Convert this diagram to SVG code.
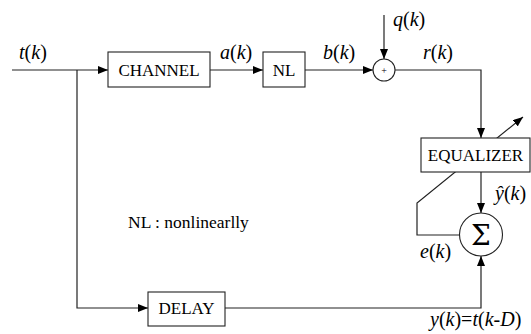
<svg xmlns="http://www.w3.org/2000/svg" width="531" height="334" viewBox="0 0 531 334">
<style>
.box{fill:#fff;stroke:#222;stroke-width:1.1}
.ln{fill:none;stroke:#222;stroke-width:1.2}
.lbl{font-family:"Liberation Serif",serif;font-size:17px;fill:#000;text-anchor:middle}
.m{font-family:"Liberation Serif",serif;font-size:20px;fill:#000}
.i{font-style:italic}
</style>
<defs>
<marker id="ah" viewBox="0 0 10 8" refX="10" refY="4" markerWidth="10" markerHeight="8" markerUnits="userSpaceOnUse" orient="auto">
<path d="M0,0 L10,4 L0,8 Z" fill="#000"/>
</marker>
</defs>
<g id="connectors">
<path class="ln" d="M12,70 H108" marker-end="url(#ah)"/>
<path class="ln" d="M77,70 V308 H148" marker-end="url(#ah)"/>
<path class="ln" d="M210,70 H263" marker-end="url(#ah)"/>
<path class="ln" d="M305,70 H373" marker-end="url(#ah)"/>
<path class="ln" d="M384,15 V59" marker-end="url(#ah)"/>
<path class="ln" d="M395,70 H481 V138" marker-end="url(#ah)"/>
<path class="ln" d="M481,172 V213" marker-end="url(#ah)"/>
<path class="ln" d="M225,308 H481 V256" marker-end="url(#ah)"/>
<path class="ln" d="M459,235 H417 V203 L523,117" marker-end="url(#ah)"/>
</g>
<g id="channel"><rect class="box" x="108" y="52" width="102" height="35"/><text class="lbl" x="159" y="76">CHANNEL</text></g>
<g id="nl"><rect class="box" x="263" y="52" width="42" height="35"/><text class="lbl" x="284" y="76">NL</text></g>
<g id="adder"><circle class="box" cx="384" cy="70" r="11"/><text x="384" y="74" font-family="Liberation Serif,serif" font-size="10" text-anchor="middle">+</text></g>
<g id="equalizer"><rect class="box" x="421" y="138" width="109" height="34"/><text class="lbl" x="475.5" y="161">EQUALIZER</text></g>
<g id="sum"><circle class="box" cx="481" cy="234.5" r="21.5"/><text x="481" y="245" font-family="DejaVu Serif,serif" font-size="28" text-anchor="middle">Σ</text></g>
<g id="delay"><rect class="box" x="148" y="292" width="77" height="34"/><text class="lbl" x="186.5" y="314">DELAY</text></g>
<g id="labels">
<text class="m" x="19" y="59"><tspan class="i">t</tspan>(<tspan class="i">k</tspan>)</text>
<text class="m" x="220" y="59"><tspan class="i">a</tspan>(<tspan class="i">k</tspan>)</text>
<text class="m" x="323" y="59"><tspan class="i">b</tspan>(<tspan class="i">k</tspan>)</text>
<text class="m" x="423" y="59"><tspan class="i">r</tspan>(<tspan class="i">k</tspan>)</text>
<text class="m" x="393" y="26"><tspan class="i">q</tspan>(<tspan class="i">k</tspan>)</text>
<text class="m" x="495" y="200"><tspan class="i">ŷ</tspan>(<tspan class="i">k</tspan>)</text>
<text class="m" x="420" y="258"><tspan class="i">e</tspan>(<tspan class="i">k</tspan>)</text>
<text class="m" x="430" y="326"><tspan class="i">y</tspan>(<tspan class="i">k</tspan>)=<tspan class="i">t</tspan>(<tspan class="i">k</tspan>-<tspan class="i">D</tspan>)</text>
<text font-family="Liberation Serif,serif" font-size="17.5" x="128" y="228">NL : nonlinearlly</text>
</g>
</svg>
